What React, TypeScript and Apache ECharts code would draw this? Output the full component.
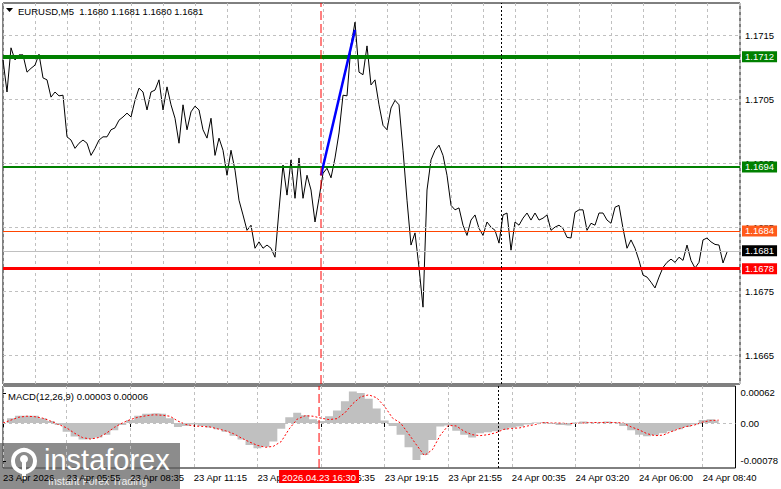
import React, { useEffect, useRef } from 'react';
import * as echarts from 'echarts';

// ---- data ----
const timeLabels = [
  '23 Apr 2026', '23 Apr 05:55', '23 Apr 08:35', '23 Apr 11:15', '23 Apr 13:55', '23 Apr 16:35',
  '23 Apr 19:15', '23 Apr 21:55', '24 Apr 00:35', '24 Apr 03:20', '24 Apr 06:00', '24 Apr 08:40',
];
const timeLabelBars = [0, 32, 64, 96, 128, 160, 192, 224, 256, 288, 320, 352];
const priceTicks = [1.1665, 1.1675, 1.1685, 1.1695, 1.1705, 1.1715];
const macdTicks = [0.00062, 0, -0.00078];

// close prices, one every 2 bars (M5)
const closePrices = [
  1.17111, 1.17061, 1.17130, 1.17111, 1.17119, 1.17119, 1.17092, 1.17098, 1.17103, 1.17120,
  1.17083, 1.17080, 1.17053, 1.17061, 1.17055, 1.17056, 1.16991, 1.16986, 1.16973, 1.16981,
  1.16986, 1.16981, 1.16962, 1.16973, 1.16986, 1.16991, 1.16991, 1.17002, 1.17005, 1.17017,
  1.17022, 1.17028, 1.17022, 1.17048, 1.17067, 1.17061, 1.17033, 1.17061, 1.17064, 1.17080,
  1.17033, 1.17069, 1.17041, 1.17020, 1.16981, 1.17041, 1.17002, 1.17030, 1.17039, 1.17033,
  1.17002, 1.16989, 1.17020, 1.16962, 1.16989, 1.16970, 1.16931, 1.16970, 1.16939, 1.16892,
  1.16869, 1.16845, 1.16853, 1.16817, 1.16827, 1.16817, 1.16822, 1.16817, 1.16803, 1.16877,
  1.16947, 1.16900, 1.16955, 1.16895, 1.16958, 1.16895, 1.16931, 1.16908, 1.16858, 1.16895,
  1.16934, 1.16942, 1.16927, 1.16958, 1.16997, 1.17056, 1.17055, 1.17134, 1.17170, 1.17092,
  1.17088, 1.17133, 1.17072, 1.17080, 1.17041, 1.17009, 1.17002, 1.17036, 1.17048, 1.17041,
  1.16970, 1.16892, 1.16822, 1.16841, 1.16787, 1.16725, 1.16908, 1.16955, 1.16970, 1.16978,
  1.16962, 1.16931, 1.16884, 1.16877, 1.16880, 1.16853, 1.16837, 1.16861, 1.16869, 1.16848,
  1.16837, 1.16858, 1.16850, 1.16845, 1.16825, 1.16869, 1.16872, 1.16814, 1.16858, 1.16853,
  1.16864, 1.16872, 1.16861, 1.16872, 1.16861, 1.16864, 1.16869, 1.16845, 1.16850, 1.16853,
  1.16848, 1.16834, 1.16833, 1.16873, 1.16877, 1.16877, 1.16845, 1.16856, 1.16853, 1.16872,
  1.16872, 1.16861, 1.16856, 1.16881, 1.16884, 1.16848, 1.16817, 1.16830, 1.16817, 1.16798,
  1.16775, 1.16772, 1.16764, 1.16755, 1.16772, 1.16787, 1.16795, 1.16800, 1.16795, 1.16803,
  1.16798, 1.16822, 1.16798, 1.16786, 1.16795, 1.16830, 1.16833, 1.16827, 1.16823, 1.16822,
  1.16794, 1.16811,
];

// MACD(12,26,9), one value every 4 bars
const macdMain = [
  0.00000, 0.00010, 0.00015, 0.00015, 0.00015, 0.00010, 0.00004, -0.00004, -0.00018, -0.00028,
  -0.00034, -0.00033, -0.00030, -0.00024, -0.00015, -0.00004, 0.00006, 0.00015, 0.00019, 0.00020,
  0.00019, 0.00010, -0.00008, -0.00006, -0.00003, -0.00006, -0.00009, -0.00013, -0.00018, -0.00026,
  -0.00034, -0.00045, -0.00052, -0.00049, -0.00038, -0.00012, 0.00012, 0.00021, 0.00016, 0.00008,
  0.00004, 0.00014, 0.00026, 0.00045, 0.00065, 0.00062, 0.00050, 0.00030, 0.00005, -0.00006,
  -0.00024, -0.00050, -0.00076, -0.00066, -0.00035, -0.00007, -0.00005, -0.00016, -0.00024, -0.00030,
  -0.00021, -0.00019, -0.00017, -0.00014, -0.00010, -0.00007, -0.00003, 0.00001, 0.00002, -0.00002,
  -0.00004, -0.00005, 0.00001, 0.00003, 0.00001, 0.00001, 0.00003, 0.00001, -0.00006, -0.00015,
  -0.00024, -0.00027, -0.00025, -0.00021, -0.00017, -0.00013, -0.00008, -0.00003, 0.00006, 0.00008,
  0.00005,
];
const macdSignal = [
  0.00000, 0.00006, 0.00012, 0.00014, 0.00013, 0.00010, 0.00004, -0.00003, -0.00010, -0.00021,
  -0.00030, -0.00033, -0.00030, -0.00021, -0.00009, 0.00000, 0.00007, 0.00012, 0.00015, 0.00017,
  0.00016, 0.00014, 0.00004, -0.00003, -0.00006, -0.00007, -0.00008, -0.00012, -0.00016, -0.00022,
  -0.00031, -0.00039, -0.00046, -0.00050, -0.00048, -0.00038, -0.00012, 0.00008, 0.00015, 0.00014,
  0.00010, 0.00007, 0.00009, 0.00021, 0.00040, 0.00054, 0.00058, 0.00052, 0.00034, 0.00010,
  0.00000, -0.00022, -0.00045, -0.00067, -0.00055, -0.00025, -0.00005, -0.00006, -0.00017, -0.00024,
  -0.00026, -0.00024, -0.00020, -0.00013, -0.00011, -0.00010, -0.00006, -0.00003, 0.00001, 0.00000,
  0.00000, -0.00001, -0.00001, 0.00000, 0.00001, 0.00001, 0.00001, 0.00001, 0.00000, -0.00008,
  -0.00014, -0.00022, -0.00026, -0.00025, -0.00018, -0.00012, -0.00007, -0.00004, 0.00002, 0.00005,
  0.00006,
];

const levelValues = [1.17116, 1.16944, 1.16844, 1.16813, 1.16785];
const levelTexts = ['1.1712', '1.1694', '1.1684', '1.1681', '1.1678'];
const eventBar = 159;
const eventText = '2026.04.23 16:30';
const daySeparatorBar = 249;
const trendStart = [159, 1.16931];
const trendEnd = [176, 1.17158];
const headerText = 'EURUSD,M5  1.1680 1.1681 1.1680 1.1681';
const macdHeader = 'MACD(12,26,9) 0.00003 0.00006';

// ---- styles ----
const levelStyles = [
  { color: '#008000', width: 4, bg: '#008000', fg: '#ffffff' },
  { color: '#008000', width: 2, bg: '#008000', fg: '#ffffff' },
  { color: '#FF4500', width: 1, bg: '#FF5a1a', fg: '#ffffff' },
  { color: '#C0C0C0', width: 1, bg: '#000000', fg: '#ffffff' },
  { color: '#FF0000', width: 3, bg: '#FF0000', fg: '#ffffff' },
];

const FONT = 'Liberation Sans';
const PRICE_MIN = 1.16605;
const PRICE_MAX = 1.172;
const MACD_MIN = -0.000926;
const MACD_MAX = 0.000762;

export default function App() {
  const ref = useRef<HTMLDivElement>(null);
  useEffect(() => {
    const chart = echarts.init(ref.current!, null, { renderer: 'svg' });
    const gridLine = { color: '#C0C0C0', type: [3, 3], width: 1 };
    const eventLine = { color: '#FF0000', type: [9, 4], width: 1 };

    const priceGridLines = priceTicks.map((v) => ({
      yAxis: v,
      lineStyle: gridLine,
      label: { show: false },
    }));
    const levelLines = levelValues.map((v, i) => ({
      yAxis: v,
      lineStyle: { color: levelStyles[i].color, width: levelStyles[i].width, type: 'solid' },
      label: {
        show: true,
        position: 'end',
        distance: 2,
        formatter: levelTexts[i],
        backgroundColor: levelStyles[i].bg,
        color: levelStyles[i].fg,
        padding: [1, 3, 0, 3],
        lineHeight: 10,
        fontSize: 9.5,
        fontFamily: FONT,
      },
    }));

    const option: any = {
      animation: false,
      backgroundColor: '#ffffff',
      textStyle: { fontFamily: FONT },
      grid: [
        { left: 3, top: 3, width: 737, height: 381, show: true, borderColor: '#000', borderWidth: 1, backgroundColor: 'transparent' },
        { left: 3, top: 386, width: 737, height: 82, show: true, borderColor: '#000', borderWidth: 1, backgroundColor: 'transparent' },
      ],
      xAxis: [
        {
          type: 'value', gridIndex: 0, min: 0, max: 368.5, interval: 16,
          axisLabel: { show: false }, axisTick: { show: false }, axisLine: { show: false },
          splitLine: { show: true, lineStyle: gridLine },
        },
        {
          type: 'value', gridIndex: 1, min: 0, max: 368.5, interval: 16,
          axisLine: { show: false },
          axisTick: { show: true, customValues: timeLabelBars, length: 4, lineStyle: { color: '#000' } },
          axisLabel: {
            show: true,
            customValues: timeLabelBars,
            formatter: (v: number) => timeLabels[timeLabelBars.indexOf(Math.round(v))] ?? '',
            align: 'left',
            margin: 4,
            fontSize: 9.5,
            color: '#000',
            fontFamily: FONT,
          },
          splitLine: { show: true, lineStyle: gridLine },
        },
      ],
      yAxis: [
        {
          type: 'value', gridIndex: 0, position: 'right', min: PRICE_MIN, max: PRICE_MAX, scale: true,
          splitLine: { show: false }, axisLine: { show: false },
          axisTick: { show: true, customValues: priceTicks, length: 3, lineStyle: { color: '#000' } },
          axisLabel: {
            customValues: priceTicks,
            formatter: (v: number) => v.toFixed(4),
            fontSize: 9.5, color: '#000', margin: 5, fontFamily: FONT,
          },
        },
        {
          type: 'value', gridIndex: 1, position: 'right', min: MACD_MIN, max: MACD_MAX,
          splitLine: { show: false }, axisLine: { show: false },
          axisTick: { show: true, customValues: macdTicks, length: 3, lineStyle: { color: '#000' } },
          axisLabel: {
            customValues: macdTicks,
            formatter: (v: number) => (Math.abs(v) < 1e-9 ? '0.00' : v.toFixed(5)),
            fontSize: 9.5, color: '#000', margin: 5, fontFamily: FONT,
          },
        },
      ],
      series: [
        {
          type: 'line',
          xAxisIndex: 0, yAxisIndex: 0,
          data: [[eventBar, PRICE_MIN], [eventBar, PRICE_MAX]],
          showSymbol: false, symbol: 'none', silent: true, z: 5,
          lineStyle: eventLine,
        },
        {
          type: 'line',
          xAxisIndex: 1, yAxisIndex: 1,
          data: [[eventBar, MACD_MIN], [eventBar, MACD_MAX]],
          showSymbol: false, symbol: 'none', silent: true, z: 5,
          lineStyle: eventLine,
        },
        {
          type: 'line',
          xAxisIndex: 0, yAxisIndex: 0,
          data: closePrices.map((v, i) => [i * 2, v]),
          showSymbol: false, symbol: 'none', silent: true, z: 3,
          lineStyle: { color: '#000', width: 1 },
          markLine: {
            silent: true, symbol: ['none', 'none'], animation: false, precision: 8,
            data: [
              ...priceGridLines,
              ...levelLines,
              { xAxis: daySeparatorBar, lineStyle: { color: '#000', type: [2, 2], width: 1 }, label: { show: false } },
              [
                { coord: trendStart, lineStyle: { color: '#0000FF', width: 2.5, type: 'solid' }, label: { show: false } },
                { coord: trendEnd },
              ],
            ],
          },
        },
        {
          type: 'line',
          xAxisIndex: 1, yAxisIndex: 1,
          data: macdMain.map((v, i) => [i * 4, v]),
          step: 'middle',
          showSymbol: false, symbol: 'none', silent: true, z: 2,
          lineStyle: { width: 0, color: '#C0C0C0' },
          areaStyle: { color: '#C0C0C0', opacity: 1, origin: 0 },
        },
        {
          type: 'line',
          xAxisIndex: 1, yAxisIndex: 1,
          data: macdSignal.map((v, i) => [i * 4, v]),
          showSymbol: false, symbol: 'none', silent: true, z: 4,
          lineStyle: { color: '#FF0000', width: 1, type: [2, 2] },
          markLine: {
            silent: true, symbol: ['none', 'none'], animation: false, precision: 8,
            data: [
              { yAxis: 0, lineStyle: gridLine, label: { show: false } },
              { xAxis: daySeparatorBar, lineStyle: { color: '#000', type: [2, 2], width: 1 }, label: { show: false } },
              {
                xAxis: eventBar,
                lineStyle: { color: '#FF0000', type: [9, 4], width: 0 },
                label: {
                  show: true, position: 'start', distance: 2,
                  formatter: eventText,
                  backgroundColor: '#FF0000', color: '#fff',
                  padding: [2, 3, 1, 3], fontSize: 9.5, fontFamily: FONT,
                },
              },
            ],
          },
        },
      ],
      graphic: [
        { type: 'polygon', shape: { points: [[6, 8], [13, 8], [9.5, 12]] }, style: { fill: '#000' }, z: 10 },
        { type: 'text', x: 18, y: 11, style: { text: headerText, fontSize: 9.5, fontFamily: FONT, fill: '#000', verticalAlign: 'middle' }, z: 10 },
        { type: 'text', x: 8, y: 396, style: { text: macdHeader, fontSize: 9.5, fontFamily: FONT, fill: '#000', verticalAlign: 'middle' }, z: 10 },
        {
          type: 'group', z: 20,
          children: [
            { type: 'rect', shape: { x: 0, y: 443, width: 180, height: 46 }, style: { fill: 'rgba(95,95,95,0.72)' } },
            { type: 'circle', shape: { cx: 24, cy: 461, r: 11 }, style: { fill: 'none', stroke: '#fff', lineWidth: 4 } },
            { type: 'circle', shape: { cx: 24, cy: 459, r: 4 }, style: { fill: '#fff' } },
            { type: 'rect', shape: { x: 22, y: 462, width: 4, height: 17 }, style: { fill: '#fff' } },
            { type: 'text', x: 44, y: 460, style: { text: 'instaforex', fontSize: 29, fontFamily: FONT, fill: '#fff', verticalAlign: 'middle' } },
            { type: 'text', x: 48, y: 481, style: { text: 'Instant Forex Trading', fontSize: 10.5, fontFamily: FONT, fill: '#eeeeee', verticalAlign: 'middle' } },
          ],
        },
      ],
    };
    chart.setOption(option);
    return () => chart.dispose();
  }, []);
  return (
    <div
      ref={ref}
      style={{ position: 'fixed', left: 0, top: 0, width: 781, height: 489, background: '#fff' }}
    />
  );
}
